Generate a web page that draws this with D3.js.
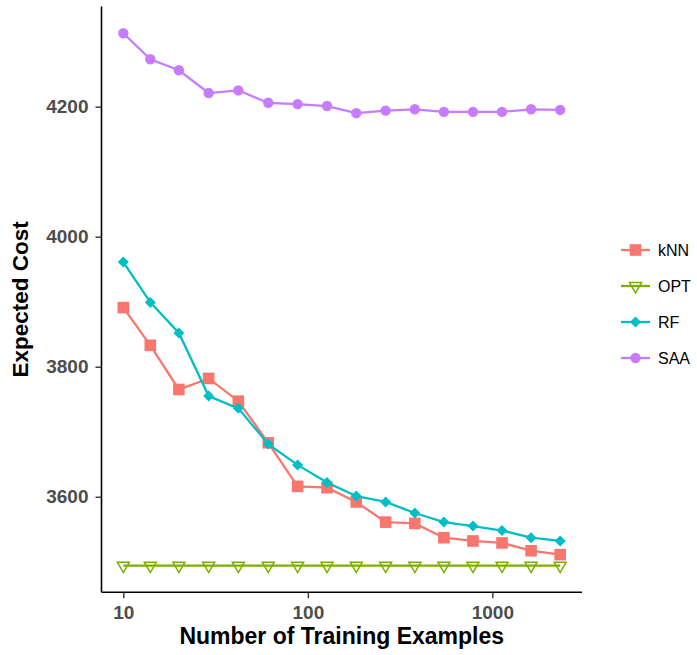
<!DOCTYPE html>
<html>
<head>
<meta charset="utf-8">
<script src="https://cdn.jsdelivr.net/npm/d3@7"></script>
<style>
  body { margin: 0; background: #fff; }
  svg { font-family: "Liberation Sans", Arial, Helvetica, sans-serif; }
</style>
</head>
<body>
<svg id="chart" width="697" height="655"></svg>
<script>
// training set sizes (log scale)
var sizes = [10, 14, 20, 29, 42, 61, 88, 127, 183, 264, 380, 546, 785, 1128, 1621, 2330];

var knnCost = [3891, 3833, 3765, 3782, 3747, 3683, 3616, 3614, 3592, 3561, 3559, 3537, 3532, 3529, 3517, 3511];
var optCost = [3494, 3494, 3494, 3494, 3494, 3494, 3494, 3494, 3494, 3494, 3494, 3494, 3494, 3494, 3494, 3494];
var rfCost  = [3961, 3899, 3852, 3755, 3736, 3681, 3649, 3622, 3601, 3592, 3575, 3561, 3555, 3548, 3537, 3532];
var saaCost = [4313, 4273, 4256, 4221, 4225, 4206, 4204, 4201, 4190, 4194, 4196, 4192, 4192, 4192, 4196, 4195];

var methods = ["kNN", "OPT", "RF", "SAA"];
var colors  = ["#F8766D", "#7CAE00", "#00BFC4", "#C77CFF"];
var xTicks = [10, 100, 1000];
var yTicks = [3600, 3800, 4000, 4200];

var allSeries = [knnCost, optCost, rfCost, saaCost];

(function() {
    var svg = d3.select("#chart");
    var pLeft = 101.5, pRight = 582, pTop = 6.6, pBottom = 592.3;

    // ggplot style 5% expansion
    var lx = d3.extent(sizes, function(d) { return Math.log10(d); });
    var padX = (lx[1] - lx[0]) * 0.05;
    var x = d3.scaleLog()
        .domain([Math.pow(10, lx[0] - padX), Math.pow(10, lx[1] + padX)])
        .range([pLeft, pRight]);

    var yMin = d3.min(allSeries, function(s) { return d3.min(s); });
    var yMax = d3.max(allSeries, function(s) { return d3.max(s); });
    var padY = (yMax - yMin) * 0.05;
    var y = d3.scaleLinear()
        .domain([yMin - padY, yMax + padY])
        .range([pBottom, pTop]);

    // axes
    var xAxis = svg.append("g")
        .attr("transform", "translate(0," + pBottom + ")")
        .call(d3.axisBottom(x).tickValues(xTicks).tickFormat(d3.format("d")).tickSize(6).tickPadding(7));
    var yAxis = svg.append("g")
        .attr("transform", "translate(" + pLeft + ",0)")
        .call(d3.axisLeft(y).tickValues(yTicks).tickFormat(d3.format("d")).tickSize(6).tickPadding(7));

    [xAxis, yAxis].forEach(function(ax) {
        ax.select(".domain").attr("stroke", "#000").attr("stroke-width", 1.6);
        ax.selectAll(".tick line").attr("stroke", "#333").attr("stroke-width", 1.4);
        ax.selectAll(".tick text")
            .attr("fill", "#4d4d4d")
            .style("font-size", "19px")
            .style("font-weight", "bold")
            .style("font-family", "'Liberation Sans', Arial, sans-serif");
    });
    xAxis.select(".domain").attr("d", "M" + pLeft + ",0H" + pRight);
    yAxis.select(".domain").attr("d", "M0," + pTop + "V" + pBottom);

    // axis titles
    svg.append("text")
        .attr("x", (pLeft + pRight) / 2)
        .attr("y", 644)
        .attr("text-anchor", "middle")
        .style("font-size", "23px")
        .style("font-weight", "bold")
        .text("Number of Training Examples");

    svg.append("text")
        .attr("transform", "translate(28," + ((pTop + pBottom) / 2) + ") rotate(-90)")
        .attr("text-anchor", "middle")
        .style("font-size", "22.5px")
        .style("font-weight", "bold")
        .text("Expected Cost");

    function drawMarker(g, i, cx, cy) {
        var c = colors[i];
        if (i === 0) {
            g.append("rect").attr("x", cx - 5.8).attr("y", cy - 5.8)
                .attr("width", 11.6).attr("height", 11.6).attr("fill", c);
        } else if (i === 1) {
            var h = 10.4, w = 12;
            g.append("path")
                .attr("d", "M" + (cx - w / 2) + "," + (cy - h / 3) + "L" + (cx + w / 2) + "," + (cy - h / 3) +
                    "L" + cx + "," + (cy + 2 * h / 3) + "Z")
                .attr("fill", "none").attr("stroke", c).attr("stroke-width", 1.5);
        } else if (i === 2) {
            g.append("path")
                .attr("d", "M" + cx + "," + (cy - 5.5) + "L" + (cx + 5.5) + "," + cy +
                    "L" + cx + "," + (cy + 5.5) + "L" + (cx - 5.5) + "," + cy + "Z")
                .attr("fill", c);
        } else {
            g.append("circle").attr("cx", cx).attr("cy", cy).attr("r", 5.2).attr("fill", c);
        }
    }

    var line = d3.line()
        .x(function(d) { return x(d[0]); })
        .y(function(d) { return y(d[1]); });

    allSeries.forEach(function(series, i) {
        var pts = sizes.map(function(s, j) { return [s, series[j]]; });
        var g = svg.append("g");
        g.append("path")
            .attr("d", line(pts))
            .attr("fill", "none")
            .attr("stroke", colors[i])
            .attr("stroke-width", 2.3);
        pts.forEach(function(p) {
            drawMarker(g, i, x(p[0]), y(p[1]));
        });
    });

    // legend
    var legend = svg.append("g");
    methods.forEach(function(m, i) {
        var ly = 250 + i * 36;
        legend.append("line")
            .attr("x1", 621).attr("x2", 650).attr("y1", ly).attr("y2", ly)
            .attr("stroke", colors[i]).attr("stroke-width", 2.3);
        drawMarker(legend, i, 635.5, ly);
        legend.append("text")
            .attr("x", 658).attr("y", ly + 5.5)
            .style("font-size", "16px")
            .text(m);
    });
})();
</script>
</body>
</html>
